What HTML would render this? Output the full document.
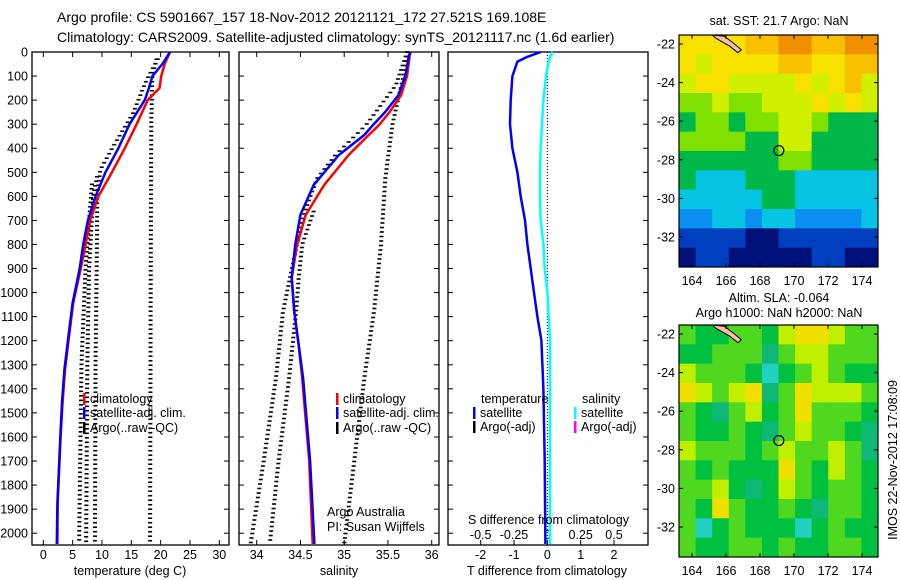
<!DOCTYPE html>
<html><head><meta charset="utf-8"><style>
html,body{margin:0;padding:0;background:#fff;}
svg{display:block;font-family:"Liberation Sans",sans-serif;}
</style></head><body>
<svg id="chart" width="900" height="580" viewBox="0 0 900 580" xmlns="http://www.w3.org/2000/svg">
<text x="57" y="22" font-size="14">Argo profile: CS 5901667_157 18-Nov-2012 20121121_172 27.521S 169.108E</text>
<text x="57" y="42" font-size="14">Climatology: CARS2009. Satellite-adjusted climatology: synTS_20121117.nc (1.6d earlier)</text>
</svg>
<script>
// ---------- data ----------
const depthTicks=[0,100,200,300,400,500,600,700,800,900,1000,1100,1200,1300,1400,1500,1600,1700,1800,1900,2000];
const tempTicks=[0,5,10,15,20,25,30];
const salTicks=[34,34.5,35,35.5,36];
const salTickLabels=["34","34.5","35","35.5","36"];
const tdiffTicks=[-2,-1,0,1,2];
const sdiffTicks=[-0.5,-0.25,0,0.25,0.5];
const sdiffTickLabels=["-0.5","-0.25","0","0.25","0.5"];

const depthsT=[0,50,100,150,200,300,400,500,600,700,800,900,1043,1200,1321,1450,1600,1875,2045];
const climTemp=[21.6,20.7,20.1,19.8,17.8,15.9,13.9,11.7,9.4,8.0,7.2,6.4,5.1,4.3,3.7,3.3,2.95,2.45,2.4];
const satTemp=[21.6,20.3,18.6,18.0,17.3,14.7,12.8,10.6,8.9,7.6,6.8,6.2,5.0,4.2,3.6,3.2,2.9,2.4,2.3];

const depthsS=[0,12,96,179,249,303,345,428,553,677,802,939,1080,1218,1355,1700,2045];
const climSal=[35.76,35.75,35.72,35.65,35.52,35.40,35.28,35.05,34.77,34.56,34.46,34.40,34.43,34.48,34.52,34.60,34.64];
const satSal=[35.76,35.74,35.70,35.62,35.47,35.33,35.23,34.94,34.65,34.50,34.44,34.40,34.43,34.48,34.53,34.61,34.66];

const argoT1Depth=[30,116,254,393,490,600,900,1300,2045];
const argoT1=[19.5,17.6,15.3,11.9,9.7,9.2,9.1,8.9,8.8];
const argoT2Depth=[500,600,900,1300,2045];
const argoT2=[9.3,8.5,7.8,7.5,7.3];
const argoT3Depth=[550,700,900,1300,2045];
const argoT3=[8.3,7.8,7.2,6.5,6.1];
const argoT4Depth=[30,100,300,1000,2045];
const argoT4=[19.3,18.6,18.4,18.3,18.2];

const argoS1Depth=[0,138,303,428,525,663,800,939,1080,1355,1700,2045];
const argoS1=[35.72,35.59,35.25,34.9,34.69,34.55,34.46,34.38,34.3,34.22,34.08,33.93];
const argoS2Depth=[663,800,939,1080,1355,1700,2045];
const argoS2=[34.65,34.52,34.48,34.45,34.37,34.25,34.15];
const argoS3Depth=[0,96,303,525,802,1080,1355,2045];
const argoS3=[35.72,35.68,35.55,35.47,35.42,35.34,35.23,35.0];

const diffDepth=[0,20,40,100,200,300,400,500,600,700,800,900,1000,1100,1200,1400,1700,2045];
const tDiff=[-0.2,-0.6,-0.9,-1.05,-1.1,-1.12,-1.05,-0.9,-0.8,-0.67,-0.6,-0.5,-0.4,-0.3,-0.18,-0.12,-0.08,-0.06];
const sDiff=[0.04,0.02,0.01,-0.01,-0.03,-0.04,-0.05,-0.055,-0.055,-0.05,-0.03,-0.02,0,0.01,0.02,0.02,0.02,0.02];

const lonTicks=[164,166,168,170,172,174];
const latTicks=[-22,-24,-26,-28,-30,-32];
const sstGrid=[
[7,7,7,7,8,8,9,9,8,8,9,9],
[7,6,7,7,7,7,8,8,7,7,8,8],
[6,7,7,6,6,6,6,7,6,7,8,6],
[5,5,6,5,5,6,6,6,7,6,7,6],
[4,5,5,4,5,5,6,6,5,4,4,4],
[5,5,5,5,4,4,6,6,4,4,4,4],
[4,4,4,4,4,4,5,5,4,4,4,4],
[4,3,3,3,4,4,4,3,3,3,3,3],
[3,3,3,3,3,4,4,3,3,3,3,3],
[2,2,3,3,2,3,3,2,2,2,2,3],
[1,1,1,1,0,0,1,1,1,1,1,1],
[0,1,1,0,0,0,0,0,1,1,0,0]];
const slaGrid=[
[5,4,4,5,5,4,6,7,7,6,5,5],
[4,4,5,5,5,3,5,6,6,5,5,5],
[6,5,5,5,4,2,4,5,6,5,4,4],
[7,6,5,6,7,3,5,7,6,6,6,5],
[5,4,3,5,6,4,5,7,5,5,5,4],
[5,4,4,5,4,3,5,6,5,5,4,3],
[6,5,5,5,4,5,6,5,5,6,5,3],
[5,4,5,4,4,4,7,5,4,6,5,4],
[5,5,6,4,3,4,6,5,4,5,5,4],
[5,4,7,5,4,4,5,4,3,5,5,4],
[5,2,4,5,4,4,4,2,4,5,4,4],
[5,4,4,5,5,4,5,4,4,5,5,4]];
const argoLon=169.108, argoLat=-27.521;
const islandLon=[165.2,165.9,166.5,166.9,166.7,166.2,165.4];
const islandLat=[-21.5,-21.6,-22.0,-22.3,-22.45,-22.1,-21.7];

// ---------- helpers ----------
const NS="http://www.w3.org/2000/svg";
const svg=document.getElementById('chart');
function mk(tag,attrs,parent){const e=document.createElementNS(NS,tag);for(const k in attrs)e.setAttribute(k,attrs[k]);(parent||svg).appendChild(e);return e;}
function lin(d0,d1,r0,r1){return v=>r0+(v-d0)*(r1-r0)/(d1-d0);}
function interp(ds,vs,d){for(let i=0;i<ds.length-1;i++){if(d>=ds[i]&&d<=ds[i+1]){const t=(d-ds[i])/(ds[i+1]-ds[i]);return vs[i]+t*(vs[i+1]-vs[i]);}}return null;}
const TOP=52,BOT=545;
const yD=lin(0,2049,TOP,BOT);
const xT=lin(0,30,43.3,219.3);
const xS=lin(34,36,256.7,431.7);
const xTd=lin(-2,2,480.7,614);
const xSd=lin(-0.5,0.5,480.7,614);

function panelFrame(name,x0,x1,showDepthLabels){
  const g=mk('g',{});
  
  
  const r=mk('rect',{x:x0,y:TOP,width:x1-x0,height:BOT-TOP,fill:'none',stroke:'#000','stroke-width':1.3},g);
  
  
  depthTicks.forEach(d=>{
    const y=yD(d);
    const t1=mk('line',{x1:x0,x2:x0+5,y1:y,y2:y,stroke:'#000'},g);
    
    
    const t2=mk('line',{x1:x1,x2:x1-5,y1:y,y2:y,stroke:'#000'},g);
    
    
    if(showDepthLabels){
      const tl=mk('text',{x:x0-4,y:y+4.5,'font-size':12.5,'text-anchor':'end'},g);
      tl.textContent=d;
      
      
    }
  });
  return g;
}
function xTicks(g,ticks,labels,sc,ly,top){
  ticks.forEach((v,i)=>{
    const x=sc(v);
    const t=mk('line',{x1:x,x2:x,y1:BOT,y2:BOT-5,stroke:'#000'},g);
    
    
    if(top){const t2=mk('line',{x1:x,x2:x,y1:TOP,y2:TOP+5,stroke:'#000'},g);
    
    }
    const l=mk('text',{x:x,y:ly,'font-size':12.5,'text-anchor':'middle'},g);
    l.textContent=labels[i];
    
    
  });
}
function line(g,ds,vs,xs,color,w,name){
  const pts=ds.map((d,i)=>xs(vs[i]).toFixed(1)+','+yD(d).toFixed(1)).join(' ');
  const p=mk('polyline',{points:pts,fill:'none',stroke:color,'stroke-width':w,'stroke-linejoin':'round'},g);
  
  
}
function argo(g,ds,vs,xs,name){
  const gg=mk('g',{},g);
  
  
  for(let y=yD(ds[0]);y<=yD(ds[ds.length-1]);y+=4.5){
    const d=(y-TOP)*2049/(BOT-TOP);
    const v=interp(ds,vs,d); if(v===null)continue;
    const x=xs(v);
    mk('rect',{x:x-2,y:y-0.8,width:4,height:1.6,fill:'#000'},gg);
  }
}
function legendRow(g,x,y,color,label){
  const b=mk('rect',{x:x,y:y-10,width:2.5,height:12,fill:color},g);
  
  
  const t=mk('text',{x:x+7,y:y,'font-size':12.5},g);
  t.textContent=label;
  
  
}
function txt(g,x,y,s,anchor,name,size){
  const t=mk('text',{x:x,y:y,'font-size':size||12.5,'text-anchor':anchor||'start'},g);
  t.textContent=s;
  
  
  return t;
}

// ---------- panel 1: temperature ----------
const g1=panelFrame('temperature-panel',32,229,true);
xTicks(g1,tempTicks,tempTicks.map(String),xT,559,true);
argo(g1,argoT1Depth,argoT1,xT,'argo-temp-profile-1');
argo(g1,argoT2Depth,argoT2,xT,'argo-temp-profile-2');
argo(g1,argoT3Depth,argoT3,xT,'argo-temp-profile-3');
argo(g1,argoT4Depth,argoT4,xT,'argo-temp-profile-4');
line(g1,depthsT,climTemp,xT,'#f00',2.5,'climatology-temp-line');
line(g1,depthsT,satTemp,xT,'#00f',2.5,'satellite-temp-line');
const lg1=mk('g',{},g1);


legendRow(lg1,83,403,'#f00','climatology');
legendRow(lg1,83,417,'#00f','satellite-adj. clim.');
legendRow(lg1,83,432,'#000','Argo(..raw -QC)');
txt(g1,130,575,'temperature (deg C)','middle','x-axis-title-temperature');

// ---------- panel 2: salinity ----------
const g2=panelFrame('salinity-panel',239,439,false);
xTicks(g2,salTicks,salTickLabels,xS,559,true);
argo(g2,argoS1Depth,argoS1,xS,'argo-sal-profile-1');
argo(g2,argoS2Depth,argoS2,xS,'argo-sal-profile-2');
argo(g2,argoS3Depth,argoS3,xS,'argo-sal-profile-3');
line(g2,depthsS,climSal,xS,'#f00',2.5,'climatology-sal-line');
line(g2,depthsS,satSal,xS,'#00f',2.5,'satellite-sal-line');
const lg2=mk('g',{},g2);


legendRow(lg2,336,403,'#f00','climatology');
legendRow(lg2,336,417,'#00f','satellite-adj. clim.');
legendRow(lg2,336,432,'#000','Argo(..raw -QC)');
txt(g2,327,516,'Argo Australia','start','credit-argo-australia');
txt(g2,327,531,'PI: Susan Wijffels','start','credit-pi');
txt(g2,339,575,'salinity','middle','x-axis-title-salinity');

// ---------- panel 3: differences ----------
const g3=panelFrame('difference-panel',448,648,false);
xTicks(g3,tdiffTicks,tdiffTicks.map(String),xTd,559,false);
sdiffTicks.forEach((v,i)=>{
  txt(g3,xSd(v),539,sdiffTickLabels[i],'middle','s-diff-tick-label');
});
const zl=mk('line',{x1:xTd(0),x2:xTd(0),y1:TOP,y2:BOT,stroke:'#000','stroke-dasharray':'1 2'},g3);


line(g3,diffDepth,sDiff,xSd,'#0ff',2.5,'salinity-satellite-diff-line');
line(g3,diffDepth,tDiff,xTd,'#00f',2.5,'temperature-satellite-diff-line');
const lg3=mk('g',{},g3);


txt(lg3,481,403,'temperature','start','legend-heading-temperature');
txt(lg3,582,403,'salinity','start','legend-heading-salinity');
legendRow(lg3,473,417,'#00f','satellite');
legendRow(lg3,473,431,'#000','Argo(-adj)');
legendRow(lg3,574,417,'#0ff','satellite');
legendRow(lg3,574,431,'#f0f','Argo(-adj)');
txt(g3,468,524,'S difference from climatology','start','s-diff-axis-title');
txt(g3,547,575,'T difference from climatology','middle','t-diff-axis-title');

// ---------- maps ----------
const sstPal=['#00107a','#0040c0','#0a90f0','#08c4e4','#00b84a','#80e000','#d0f000','#f8e000','#f8c000','#f09000'];
const slaPal=['#00a0a0','#10c0c0','#20d0c0','#10b878','#00c040','#50d820','#c0f000','#f0e000'];
function drawMap(name,grid,pal,y0,y1,lat22y,lat32y,titles){
  const g=mk('g',{});
  
  
  const X0=679,X1=878;
  const xL=lin(164,174,692,862);
  const yL=lin(-22,-32,lat22y,lat32y);
  const lon0=(X0-692)/17+164, lon1=(X1-692)/17+164;
  const lat0=-22+(lat22y-y0)/((lat32y-lat22y)/10), lat1=-22-(y1-lat22y)/((lat32y-lat22y)/10);
  const nr=grid.length,nc=grid[0].length;
  const dlon=(lon1-lon0)/nc, dlat=(lat0-lat1)/nr;
  grid.forEach((row,r)=>row.forEach((v,c)=>{
    const xa=xL(lon0+c*dlon), xb=xL(lon0+(c+1)*dlon);
    const ya=yL(lat0-r*dlat), yb=yL(lat0-(r+1)*dlat);
    const cell=mk('rect',{x:xa,y:ya,width:xb-xa+0.5,height:yb-ya+0.5,fill:pal[v]},g);
    
    
  }));
  const isl=mk('polygon',{points:islandLon.map((lo,i)=>xL(lo)+','+Math.max(y0,yL(islandLat[i]))).join(' '),fill:'#f8c0a0',stroke:'#000','stroke-width':1},g);
  
  
  const c=mk('circle',{cx:xL(argoLon),cy:yL(argoLat),r:5,fill:'none',stroke:'#000','stroke-width':1.2},g);
  
  
  const fr=mk('rect',{x:X0,y:y0,width:X1-X0,height:y1-y0,fill:'none',stroke:'#000','stroke-width':1.2},g);
  
  
  lonTicks.forEach(lo=>{
    const x=xL(lo);
    mk('line',{x1:x,x2:x,y1:y1,y2:y1-4,stroke:'#000'},g);
    mk('line',{x1:x,x2:x,y1:y0,y2:y0+4,stroke:'#000'},g);
    txt(g,x,y1+18,String(lo),'middle','map-lon-label');
  });
  latTicks.forEach(la=>{
    const y=yL(la);
    mk('line',{x1:X0,x2:X0+4,y1:y,y2:y,stroke:'#000'},g);
    mk('line',{x1:X1,x2:X1-4,y1:y,y2:y,stroke:'#000'},g);
    txt(g,675,y+4.5,String(la),'end','map-lat-label');
  });
  titles.forEach(t=>txt(g,779,t[1],t[0],'middle','map-title'));
}
drawMap('sst-map',sstGrid,sstPal,35,267,44,237,[['sat. SST: 21.7 Argo: NaN',25]]);
drawMap('sla-map',slaGrid,slaPal,325,557,334,527,[['Altim. SLA: -0.064',302],['Argo h1000: NaN h2000: NaN',317]]);
const stamp=txt(svg,0,0,'IMOS 22-Nov-2012 17:08:09','middle','imos-timestamp');
stamp.setAttribute('transform','translate(897,460) rotate(-90)');
</script>
</body></html>
